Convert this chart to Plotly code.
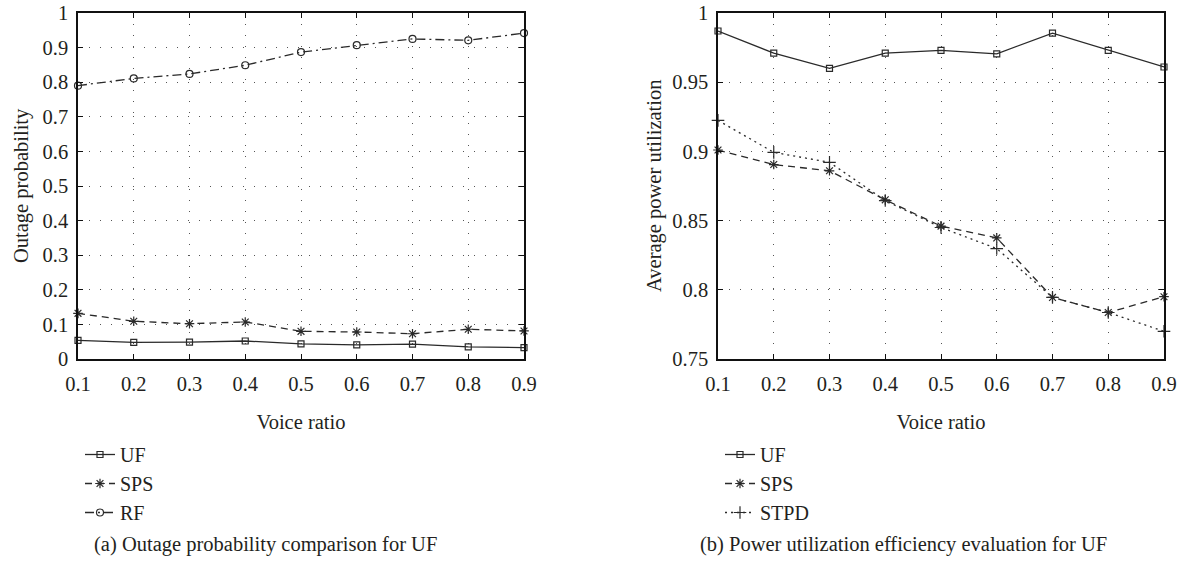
import plotly.graph_objects as go
from plotly.subplots import make_subplots

voice_ratio = [0.1, 0.2, 0.3, 0.4, 0.5, 0.6, 0.7, 0.8, 0.9]

# (a) Outage probability
outage_uf = [0.054, 0.048, 0.049, 0.052, 0.044, 0.041, 0.043, 0.035, 0.033]
outage_sps = [0.132, 0.109, 0.102, 0.107, 0.080, 0.078, 0.073, 0.086, 0.081]
outage_rf = [0.790, 0.811, 0.824, 0.849, 0.887, 0.907, 0.925, 0.921, 0.942]

# (b) Average power utilization
power_uf = [0.987, 0.971, 0.960, 0.971, 0.973, 0.9705, 0.9855, 0.973, 0.961]
power_sps = [0.901, 0.8905, 0.886, 0.865, 0.846, 0.8375, 0.7945, 0.7836, 0.795]
power_stpd = [0.9224, 0.8993, 0.8921, 0.8645, 0.845, 0.8298, 0.7945, 0.7836, 0.770]

ticks_a = [0, 0.1, 0.2, 0.3, 0.4, 0.5, 0.6, 0.7, 0.8, 0.9, 1]
ticks_b = [0.75, 0.8, 0.85, 0.9, 0.95, 1]

FONT = "Liberation Serif"
TXT = "#231f20"
LC = "#2a2a2a"
FS = 20.5

W, H = 1188, 562
L, R, T, B = 78, 24, 13, 203
pw = W - L - R
ph = H - T - B
d1 = [0, 446 / pw]
d2 = [(718 - L) / pw, 1]

fig = make_subplots(rows=1, cols=2)
fig.update_layout(xaxis=dict(domain=d1), xaxis2=dict(domain=d2))

def add(x, y, name, dash, symbol, size, col, legend):
    fig.add_trace(go.Scatter(
        x=x, y=y, name=name, mode="lines+markers", cliponaxis=False,
        line=dict(color=LC, width=1.3, dash=dash),
        marker=dict(symbol=symbol, size=size, color=LC,
                    line=dict(color=LC, width=1.2)),
        legend=legend), row=1, col=col)

add(voice_ratio, outage_uf, "UF", "solid", "square-open", 6, 1, "legend")
add(voice_ratio, outage_sps, "SPS", "7px,5px", "asterisk-open", 8, 1, "legend")
add(voice_ratio, outage_rf, "RF", "9px,4px,2px,4px", "circle-open", 7, 1, "legend")

add(voice_ratio, power_uf, "UF", "solid", "square-open", 6, 2, "legend2")
add(voice_ratio, power_sps, "SPS", "7px,5px", "asterisk-open", 8, 2, "legend2")
add(voice_ratio, power_stpd, "STPD", "2px,4px", "cross-thin-open", 9, 2, "legend2")

axis_common = dict(
    showline=True, linecolor="#111", linewidth=1.5, mirror="ticks",
    ticks="inside", ticklen=5, tickcolor="#111", tickwidth=1.2,
    showgrid=True, gridcolor="#555", gridwidth=1, griddash="1px,10px",
    zeroline=False, tickfont=dict(family=FONT, size=FS, color=TXT),
    ticklabeloverflow="allow",
)

for c in (1, 2):
    fig.update_xaxes(range=[0.1, 0.9], tickvals=voice_ratio,
                     ticktext=[str(v) for v in voice_ratio], ticklabelstandoff=6,
                     title=dict(text="Voice ratio", font=dict(family=FONT, size=FS, color=TXT), standoff=20),
                     row=1, col=c, **axis_common)

fig.update_yaxes(range=[0, 1], tickvals=ticks_a, ticktext=[f"{v:g}" for v in ticks_a],
                 ticklabelstandoff=4, row=1, col=1, **axis_common)
fig.update_yaxes(range=[0.75, 1], tickvals=ticks_b, ticktext=[f"{v:g}" for v in ticks_b],
                 ticklabelstandoff=4, row=1, col=2, **axis_common)

# y-axis titles
for txt, xpx in (("Outage probability", 21), ("Average power utilization", 654)):
    fig.add_annotation(text=txt, xref="paper", yref="paper",
                       x=(xpx - L) / pw, y=0.5, textangle=-90,
                       xanchor="center", yanchor="middle", showarrow=False,
                       font=dict(family=FONT, size=FS, color=TXT))

leg_common = dict(
    xref="container", yref="container", xanchor="left", yanchor="top",
    orientation="v", bgcolor="rgba(0,0,0,0)", itemwidth=30,
    font=dict(family=FONT, size=20, color=TXT), tracegroupgap=0,
)
fig.update_layout(
    legend=dict(x=80 / W, y=1 - 435 / H, **leg_common),
    legend2=dict(x=720 / W, y=1 - 435 / H, **leg_common),
)

fig.add_annotation(text="(a) Outage probability comparison for UF", xref="paper", yref="paper",
                   x=(92 - L) / pw, y=-(544 - 359) / ph, xanchor="left", yanchor="middle",
                   showarrow=False, font=dict(family=FONT, size=FS, color=TXT))
fig.add_annotation(text="(b) Power utilization efficiency evaluation for UF", xref="paper", yref="paper",
                   x=(698 - L) / pw, y=-(544 - 359) / ph, xanchor="left", yanchor="middle",
                   showarrow=False, font=dict(family=FONT, size=FS, color=TXT))

fig.update_layout(
    width=W, height=H, margin=dict(l=L, r=R, t=T, b=B, autoexpand=False),
    paper_bgcolor="white", plot_bgcolor="white", showlegend=True,
)

fig.write_html("out.html")
